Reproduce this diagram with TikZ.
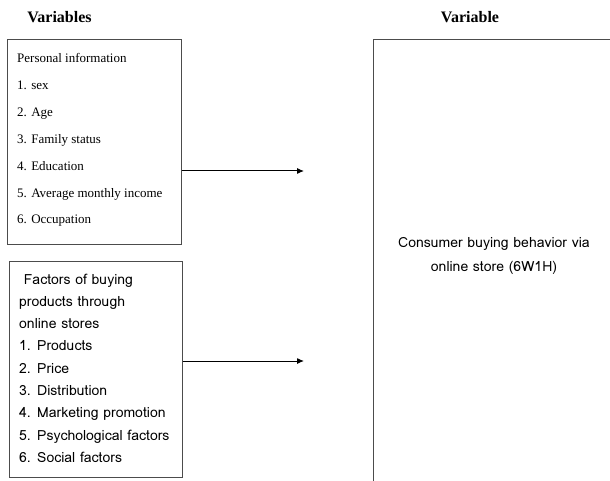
\documentclass[tikz,border=0pt]{standalone}
\usepackage{fontspec}
\setmainfont{Liberation Serif}
\newfontfamily\thaisans[Script=Thai]{Loma}
\usetikzlibrary{arrows.meta}
\begin{document}
\begin{tikzpicture}[x=1pt,y=-1pt,
  boxline/.style={draw=black!70,line width=1pt},
  heading/.style={font=\fontsize{16}{18}\selectfont\bfseries,inner sep=0pt,anchor=base},
  serifline/.style={anchor=base west,inner sep=0pt,font=\fontsize{13}{15}\selectfont},
  sansline/.style={anchor=base west,inner sep=0pt,font=\thaisans\fontsize{14}{16}\selectfont},
  conn/.style={-{Latex[length=7pt,width=6pt]},line width=1pt}]
\useasboundingbox (0,0) rectangle (610,481);
\node[heading] (h1) at (59.5,23) {Variables};
\node[heading] (h2) at (470,23) {Variable};
% box 1
\node[boxline,minimum width=174pt,minimum height=204pt,inner sep=0pt] (p1) at (94,142) {};
\foreach \t [count=\i] in {Personal information,1. sex,2. Age,3. Family status,4. Education,5. Average monthly income,6. Occupation}
  \node[serifline] (pa\i) at (17,{63+26.8*(\i-1)}) {\t};
% box 2
\node[boxline,minimum width=173pt,minimum height=216pt,inner sep=0pt] (p2) at (95.5,369) {};
\foreach \t [count=\i] in {\ Factors of buying,products through,online stores,1. Products,2. Price,3. Distribution,4. Marketing promotion,5. Psychological factors,6. Social factors}
  \node[sansline] (pb\i) at (19,{284+22.3*(\i-1)}) {\t};
% right box
\draw[boxline] (373.5,485) -- (373.5,40) -- (615,40);
\node[inner sep=0pt,font=\thaisans\fontsize{14}{16}\selectfont,anchor=base] (b1) at (494,247) {Consumer buying behavior via};
\node[inner sep=0pt,font=\thaisans\fontsize{14}{16}\selectfont,anchor=base] (b2) at (494,271) {online store (6W1H)};
% arrows
\coordinate (a1) at (304,171);
\coordinate (a2) at (304,361);
\draw[conn] (p1.east |- a1) -- (a1);
\draw[conn] (p2.east |- a2) -- (a2);
\end{tikzpicture}
\end{document}
